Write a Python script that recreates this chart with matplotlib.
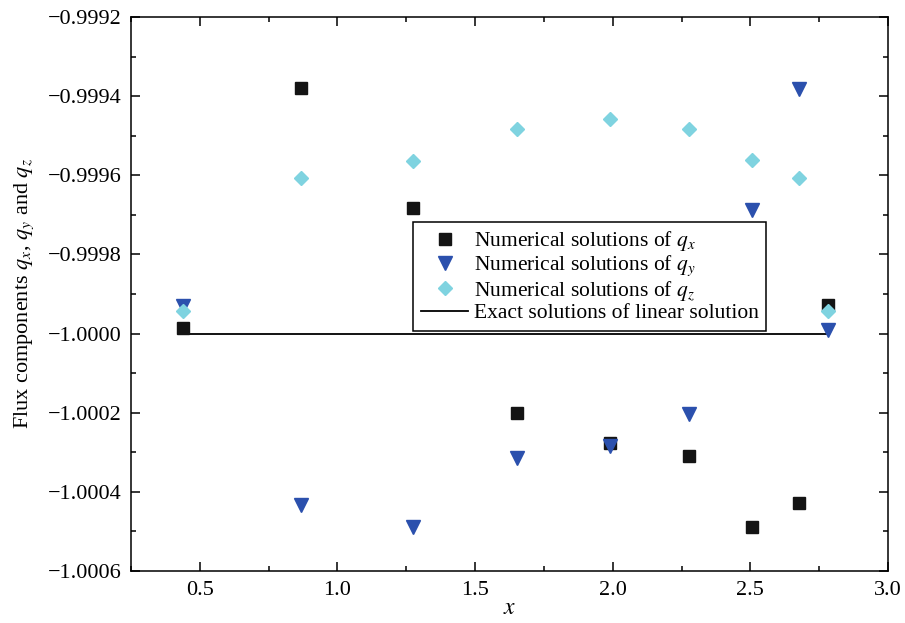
import matplotlib
matplotlib.use("Agg")
import matplotlib.pyplot as plt
from matplotlib.ticker import MultipleLocator, FuncFormatter

plt.rcParams["font.family"] = ["Liberation Serif", "DejaVu Serif"]
plt.rcParams["mathtext.fontset"] = "stix"

# Sample locations along x
x = [0.439, 0.867, 1.274, 1.653, 1.990, 2.277, 2.507, 2.678, 2.781]

# Numerical flux components
qx = [-0.999987, -0.999379, -0.999682, -1.000200, -1.000277,
      -1.000309, -1.000488, -1.000429, -0.999927]
qy = [-0.999930, -1.000433, -1.000489, -1.000314, -1.000285,
      -1.000203, -0.999687, -0.999382, -0.999991]
qz = [-0.999943, -0.999606, -0.999563, -0.999484, -0.999457,
      -0.999482, -0.999562, -0.999607, -0.999943]

# Exact (linear) solution
exact_x = [x[0], x[-1]]
exact_q = [-1.0, -1.0]

fig = plt.figure(figsize=(9.05, 6.23), dpi=100)
ax = fig.add_axes([0.1448, 0.0835, 0.8364, 0.8892])

ax.plot(exact_x, exact_q, color="black", lw=1.3, zorder=2,
        label="Exact solutions of linear solution")
ax.plot(x, qx, ls="none", marker="s", ms=8, color="#141414", zorder=3,
        label="Numerical solutions of $q_x$")
ax.plot(x, qy, ls="none", marker="v", ms=9.5, color="#2b50ad", zorder=4,
        label="Numerical solutions of $q_y$")
ax.plot(x, qz, ls="none", marker="D", ms=7, color="#7fd3e0", zorder=5,
        label="Numerical solutions of $q_z$")

ax.set_xlim(0.25, 3.0)
ax.set_ylim(-1.0006, -0.9992)
ax.xaxis.set_major_locator(MultipleLocator(0.5))
ax.xaxis.set_minor_locator(MultipleLocator(0.25))
ax.yaxis.set_major_locator(MultipleLocator(0.0002))
ax.yaxis.set_minor_locator(MultipleLocator(0.0001))
ax.xaxis.set_major_formatter(FuncFormatter(lambda v, p: f"{v:.1f}"))
ax.yaxis.set_major_formatter(
    FuncFormatter(lambda v, p: f"{v:.4f}".replace("-", "\u2212")))

ax.tick_params(which="both", direction="in", top=True, right=True,
               labelsize=16, width=1.1)
ax.tick_params(which="major", length=6.5, pad=7)
ax.tick_params(which="minor", length=3.5)
for s in ax.spines.values():
    s.set_linewidth(1.1)

ax.set_xlabel("$x$", fontsize=17, labelpad=-1)
ax.set_ylabel("Flux components $q_x$, $q_y$ and $q_z$", fontsize=16, labelpad=8)

handles, labels = ax.get_legend_handles_labels()
order = [1, 2, 3, 0]
leg = ax.legend([handles[i] for i in order], [labels[i] for i in order],
                loc="upper left", bbox_to_anchor=(0.3729, 0.6305),
                borderaxespad=0, fontsize=15.5, frameon=True, fancybox=False,
                edgecolor="black", framealpha=1, borderpad=0.35,
                labelspacing=0.02, handlelength=2.2, handletextpad=0.25)
leg.get_frame().set_linewidth(1.1)

fig.savefig("out.png", dpi=100)
